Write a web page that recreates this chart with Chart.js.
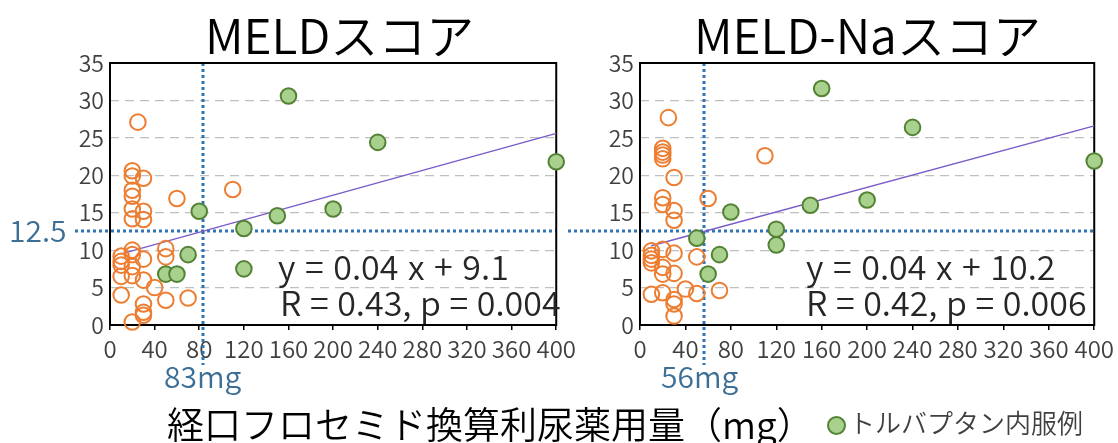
<!DOCTYPE html>
<html><head><meta charset="utf-8">
<script src="https://cdn.jsdelivr.net/npm/chart.js@4/dist/chart.umd.min.js"></script>
<style>
body{margin:0;width:1118px;height:443px;background:#fff;position:relative;overflow:hidden;font-family:"Noto Sans CJK JP","Noto Sans",sans-serif;font-weight:350;}
.abs{position:absolute;white-space:nowrap;line-height:1;}
canvas{position:absolute;top:0;}
</style></head><body>
<canvas id="c1" width="580" height="400" style="left:0px;width:580px;height:400px"></canvas>
<canvas id="c2" width="588" height="400" style="left:530px;width:588px;height:400px"></canvas>

<div class="abs" style="left:205px;top:9px;font-size:48px;color:#000">MELDスコア</div>
<div class="abs" style="left:694px;top:9px;font-size:48px;color:#000">MELD-Naスコア</div>
<div class="abs" style="left:278px;top:249px;font-size:34px;color:#262626;word-spacing:2px">y = 0.04 x + 9.1</div>
<div class="abs" style="left:280px;top:285px;font-size:34px;color:#262626;word-spacing:1px">R = 0.43, p = 0.004</div>
<div class="abs" style="left:806px;top:249px;font-size:34px;color:#262626;word-spacing:2px">y = 0.04 x + 10.2</div>
<div class="abs" style="left:806px;top:285px;font-size:34px;color:#262626;word-spacing:1px">R = 0.42, p = 0.006</div>
<div class="abs" style="left:9px;top:214px;font-size:30px;color:#3b6f96">12.5</div>
<div class="abs" style="left:164px;top:360px;font-size:30px;color:#3b6f96">83mg</div>
<div class="abs" style="left:661px;top:360px;font-size:30px;color:#3b6f96">56mg</div>
<div class="abs" style="left:167px;top:405px;font-size:37px;color:#000">経口フロセミド換算利尿薬用量（mg）</div>
<div class="abs" style="left:827px;top:416px;width:15px;height:15px;border-radius:50%;background:#a9d18e;border:2px solid #548235"></div>
<div class="abs" style="left:849px;top:409px;font-size:26px;color:#404040">トルバプタン内服例</div>

<script>
// ---- data ----
const xTicks = [0,40,80,120,160,200,240,280,320,360,400];
const yTicks = [0,5,10,15,20,25,30,35];

const meldOtherX = [25,20,20,30,20,20,20,30,20,30,60,110,10,10,10,10,20,20,20,20,30,30,40,10,50,50,50,70,30,30,30,20];
const meldOtherY = [27.1,20.6,19.9,19.6,18.0,17.2,15.5,15.2,14.2,14.1,16.9,18.1,9.2,8.5,8.0,6.5,10.0,9.4,7.8,6.6,8.8,6.0,5.0,4.0,10.2,9.1,3.3,3.6,2.8,1.7,1.3,0.4];
const meldTolvX = [80,70,50,60,160,240,400,200,150,120,120];
const meldTolvY = [15.2,9.4,6.8,6.8,30.6,24.4,21.8,15.5,14.6,12.9,7.5];
const meldTrendX = [10,400];
const meldTrendY = [9.5,25.6];
const meldCutX = 83;

const naOtherX = [25,20,20,20,20,30,20,20,30,30,60,110,10,10,10,10,20,20,20,30,30,40,10,20,30,30,30,50,50,70];
const naOtherY = [27.7,23.6,23.1,22.7,22.2,19.7,17.0,16.1,15.3,14.0,16.9,22.6,9.9,9.3,8.8,8.3,10.1,7.7,6.8,9.6,6.9,4.8,4.1,4.3,3.4,2.8,1.2,9.1,4.2,4.6];
const naTolvX = [160,240,400,200,150,120,120,80,70,50,60];
const naTolvY = [31.6,26.4,21.9,16.7,16.0,12.8,10.7,15.1,9.4,11.6,6.8];
const naTrendX = [10,400];
const naTrendY = [10.6,26.6];
const naCutX = 56;

const cutY = 12.5;

const pts = (xs, ys) => xs.map((x,i)=>({x:x, y:ys[i]}));
const FONT = '"Noto Sans CJK JP","Noto Sans",sans-serif';

function makeChart(id, otherX, otherY, tolvX, tolvY, trendX, trendY, cutX, hStart, padRight) {
  const guide = {
    id: 'guide',
    beforeDatasetsDraw(chart) {
      const {ctx, chartArea:a, scales:{x, y}} = chart;
      ctx.save();
      ctx.strokeStyle = '#2e75b6';
      ctx.lineWidth = 3;
      ctx.setLineDash([3,3]);
      const yy = Math.round(y.getPixelForValue(cutY));
      ctx.beginPath(); ctx.moveTo(hStart, yy); ctx.lineTo(a.right, yy); ctx.stroke();
      const xx = Math.round(x.getPixelForValue(cutX));
      ctx.beginPath(); ctx.moveTo(xx, a.top); ctx.lineTo(xx, 365); ctx.stroke();
      ctx.restore();
      ctx.save();
      ctx.strokeStyle = '#000';
      ctx.lineWidth = 2;
      ctx.strokeRect(a.left, a.top, a.right - a.left, a.bottom - a.top);
      ctx.restore();
    }
  };
  return new Chart(document.getElementById(id), {
    type: 'scatter',
    data: {
      datasets: [
        { type:'line', data: pts(trendX, trendY), borderColor:'#7a5cc9', borderWidth:1.5,
          pointRadius:0, fill:false, order:3, clip:false },
        { data: pts(otherX, otherY), pointRadius:7.8, pointHoverRadius:7.8, pointBorderWidth:2,
          pointBackgroundColor:'rgba(0,0,0,0)', pointBorderColor:'#ed7d31', order:2, clip:false },
        { data: pts(tolvX, tolvY), pointRadius:7.8, pointHoverRadius:7.8, pointBorderWidth:2,
          pointBackgroundColor:'#a9d18e', pointBorderColor:'#548235', order:1, clip:false }
      ]
    },
    options: {
      responsive:false, animation:false, events:[],
      layout:{ padding:{ left:0, top:63, right:padRight, bottom:0 } },
      plugins:{ legend:{display:false}, tooltip:{enabled:false} },
      scales:{
        x:{ type:'linear', min:0, max:400,
            afterBuildTicks(s){ s.ticks = xTicks.map(v=>({value:v})); },
            afterFit(s){ s.height = 75; },
            ticks:{ autoSkip:false, maxRotation:0, padding:4, color:'#404040', font:{family:FONT, size:24, weight:'350'} },
            grid:{ display:true, drawOnChartArea:false, drawTicks:true, tickLength:5, color:'#000', lineWidth:1.5 },
            border:{ display:false } },
        y:{ type:'linear', min:0, max:35,
            afterBuildTicks(s){ s.ticks = yTicks.map(v=>({value:v})); },
            afterFit(s){ s.width = 110; },
            ticks:{ padding:6, color:'#404040', font:{family:FONT, size:23, weight:'350'} },
            grid:{ color:'#bfbfbf', lineWidth:1.2, drawTicks:false },
            border:{ display:false, dash:[9,6] } }
      }
    },
    plugins:[guide]
  });
}

makeChart('c1', meldOtherX, meldOtherY, meldTolvX, meldTolvY, meldTrendX, meldTrendY, meldCutX, 75, 12);
makeChart('c2', naOtherX, naOtherY, naTolvX, naTolvY, naTrendX, naTrendY, naCutX, 38, 20);
</script>
</body></html>
